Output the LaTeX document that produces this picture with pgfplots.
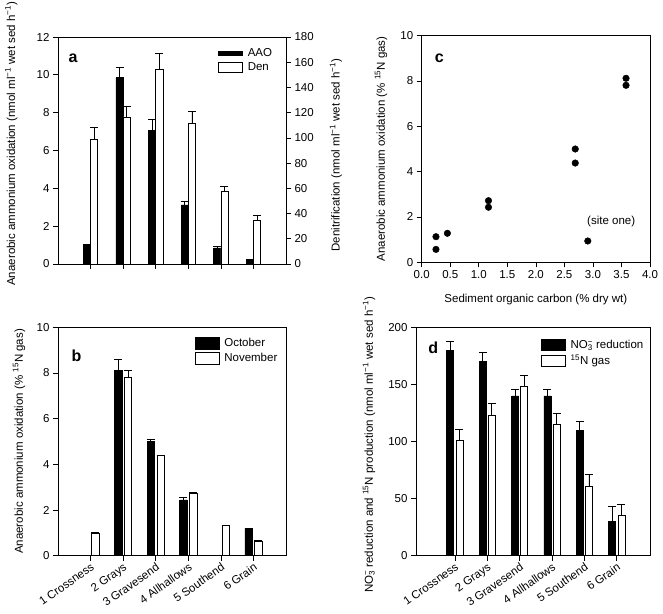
\documentclass[border=0pt]{standalone}
\usepackage{fontspec}
\setmainfont{Liberation Sans}
\usepackage{pgfplots}
\pgfplotsset{compat=1.18}
\newcommand{\fs}{\fontsize{11.5}{13}\selectfont}
\newcommand{\pl}{\fontsize{16}{18}\selectfont\bfseries}
\begin{document}
\begin{tikzpicture}[font=\fs]
\useasboundingbox (0pt,0pt) rectangle (663pt,613pt);
\pgfplotsset{
  every axis/.append style={
    scale only axis, anchor=south west,
    /pgf/number format/assume math mode=true,
    tick align=outside, major tick length=5pt,
    axis line style={line width=0.7pt},
    every tick/.append style={line width=0.7pt, black},
    tick label style={font=\fs},
    label style={font=\fs},
    legend style={draw=none, fill=none, inner sep=0pt, row sep=2pt, font=\fs, nodes={inner sep=1.5pt}},
    legend cell align=left,
    clip=false,
  },
  errs/.style={error bars/.cd, y dir=plus, y explicit,
    error bar style={line width=0.7pt, black},
    error mark options={rotate=90, line width=0.7pt, mark size=4pt, black}},
  legbox/.style n args={2}{legend image code/.code={\draw[#1, line width=0.6pt] (0pt,-#2) rectangle (24pt,#2); \path[draw=none, fill=none] (0pt,0pt) -- (27.5pt,0pt);}},
  cats/.style={xtick={1,...,6}, xticklabels={1 Crossness, 2 Grays, 3 Gravesend, 4 Allhallows, 5 Southend, 6 Grain},
    xticklabel style={rotate=35, anchor=north east, inner sep=1pt}},
}
% ---------------- panel a ----------------
\begin{axis}[at={(58pt,349pt)}, width=228pt, height=227pt,
  xmin=0, xmax=7, ymin=0, ymax=12, ytick={0,2,...,12},
  xtick={1,...,6}, xticklabels={,,,,,}, xtick pos=left, ytick pos=left,
  ylabel={Anaerobic ammonium oxidation (nmol ml\textsuperscript{−1} wet sed h\textsuperscript{−1})},
  ylabel style={at={(axis description cs:-0.205,0.53)}, anchor=center},
  legend style={at={(axis description cs:0.703,0.957)}, anchor=north west}]
\addlegendimage{legbox={fill=black,draw=black}{2pt}}
\addlegendentry{AAO}
\addlegendimage{legbox={fill=white,draw=black}{5pt}}
\addlegendentry{Den}
\addplot[ybar, bar width=7.2pt, bar shift=0pt, fill=black, draw=black, line width=0.6pt, forget plot,
  x filter/.expression={x-0.1105}, errs]
  coordinates {(1,0.99) +- (0,0.05) (2,9.85) +- (0,0.55) (3,7.05) +- (0,0.62) (4,3.12) +- (0,0.2) (5,0.85) +- (0,0.07) (6,0.22) +- (0,0)};
\node[font=\pl] at (axis cs:0.46,10.9) {a};
\end{axis}
\begin{axis}[at={(58pt,349pt)}, width=228pt, height=227pt,
  xmin=0, xmax=7, ymin=0, ymax=180, axis x line=none, axis y line*=right,
  ytick={0,20,...,180},
  ylabel={Denitrification (nmol ml\textsuperscript{−1} wet sed h\textsuperscript{−1})},
  ylabel style={at={(axis description cs:1.219,0.48)}, anchor=center}]
\addplot[ybar, bar width=7.2pt, bar shift=0pt, fill=white, draw=black, line width=0.6pt,
  x filter/.expression={x+0.1105}, errs]
  coordinates {(1,99) +- (0,9) (2,116.6) +- (0,8.7) (3,154.4) +- (0,12.9) (4,111.8) +- (0,9.2) (5,57.6) +- (0,4) (6,34.6) +- (0,3.7)};
\end{axis}
% ---------------- panel c ----------------
\begin{axis}[at={(421.7pt,350.7pt)}, width=228.3pt, height=226.6pt,
  xmin=0, xmax=4, ymin=0, ymax=10, xtick={0,0.5,...,4}, ytick={0,2,...,10},
  xtick pos=left, ytick pos=left,
  xticklabel style={/pgf/number format/.cd, fixed, fixed zerofill, precision=1},
  xlabel={Sediment organic carbon (\% dry wt)},
  xlabel style={at={(axis description cs:0.5,-0.166)}, anchor=center},
  ylabel={Anaerobic ammonium oxidation (\% \textsuperscript{15}N gas)},
  ylabel style={at={(axis description cs:-0.178,0.5)}, anchor=center}]
\addplot[only marks, mark=*, mark size=3.3pt, black] coordinates {
  (0.25,1.13) (0.25,0.57) (0.45,1.28) (1.17,2.72) (1.17,2.43)
  (2.69,5.0) (2.69,4.38) (2.91,0.94) (3.58,8.12) (3.58,7.81)};
\node at (axis cs:3.32,1.78) {(site one)};
\node[font=\pl] at (axis cs:0.31,9.0) {c};
\end{axis}
% ---------------- panel b ----------------
\begin{axis}[at={(58pt,57.3pt)}, width=228pt, height=228.4pt,
  xmin=0, xmax=7, ymin=0, ymax=10, ytick={0,2,...,10}, cats,
  xtick pos=left, ytick pos=left,
  ylabel={Anaerobic ammonium oxidation (\% \textsuperscript{15}N gas)},
  ylabel style={at={(axis description cs:-0.171,0.5)}, anchor=center},
  legend style={at={(axis description cs:0.600,0.959)}, anchor=north west}]
\addlegendimage{legbox={fill=black,draw=black}{6pt}}
\addlegendentry{October}
\addlegendimage{legbox={fill=white,draw=black}{6pt}}
\addlegendentry{November}
\addplot[ybar, bar width=7.4pt, bar shift=0pt, fill=black, draw=black, line width=0.6pt, forget plot,
  x filter/.expression={x-0.15}, errs]
  coordinates {(2,8.12) +- (0,0.48) (3,5.0) +- (0,0.08) (4,2.44) +- (0,0.11) (6,1.17) +- (0,0.02)};
\addplot[ybar, bar width=7.4pt, bar shift=0pt, fill=white, draw=black, line width=0.6pt, forget plot,
  x filter/.expression={x+0.15}, errs]
  coordinates {(1,0.96) +- (0,0.06) (2,7.82) +- (0,0.31) (3,4.39) +- (0,0.02) (4,2.72) +- (0,0.05) (5,1.31) +- (0,0.03) (6,0.61) +- (0,0.07)};
\node[font=\pl] at (axis cs:0.57,8.75) {b};
\end{axis}
% ---------------- panel d ----------------
\begin{axis}[at={(416pt,57.3pt)}, width=234.7pt, height=228.4pt,
  xmin=-0.2, xmax=7.05, ymin=0, ymax=200, ytick={0,50,...,200}, cats,
  xtick pos=left, ytick pos=left,
  ylabel={NO\rlap{\textsuperscript{−}}\textsubscript{3} reduction and \textsuperscript{15}N production (nmol ml\textsuperscript{−1} wet sed h\textsuperscript{−1})},
  ylabel style={at={(axis description cs:-0.2,0.485)}, anchor=center},
  legend style={at={(axis description cs:0.533,0.951)}, anchor=north west}]
\addlegendimage{legbox={fill=black,draw=black}{5.5pt}}
\addlegendentry{NO\rlap{\textsuperscript{−}}\textsubscript{3} reduction}
\addlegendimage{legbox={fill=white,draw=black}{5.5pt}}
\addlegendentry{\textsuperscript{15}N gas}
\addplot[ybar, bar width=7pt, bar shift=0pt, fill=black, draw=black, line width=0.6pt, forget plot,
  x filter/.expression={x-0.142}, errs]
  coordinates {(1,180) +- (0,8) (2,170) +- (0,8) (3,140) +- (0,6) (4,140) +- (0,6) (5,110) +- (0,8) (6,30) +- (0,13)};
\addplot[ybar, bar width=7pt, bar shift=0pt, fill=white, draw=black, line width=0.6pt, forget plot,
  x filter/.expression={x+0.142}, errs]
  coordinates {(1,101) +- (0,10) (2,123) +- (0,10) (3,148) +- (0,10) (4,115) +- (0,10) (5,61) +- (0,10) (6,35) +- (0,10)};
\node[font=\pl] at (axis cs:0.33,181.8) {d};
\end{axis}
\end{tikzpicture}
\end{document}
